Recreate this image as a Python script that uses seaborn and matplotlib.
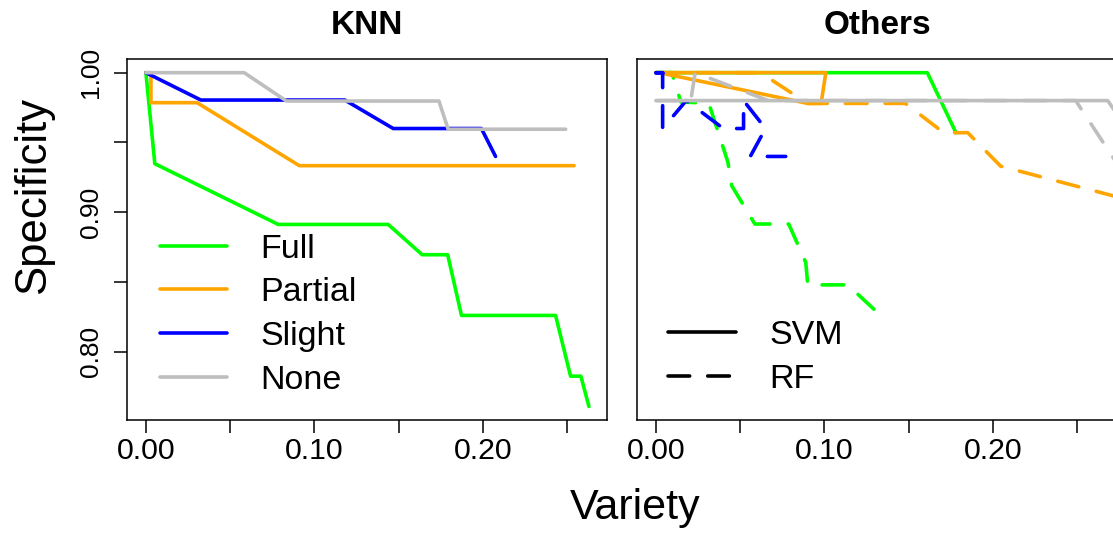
import numpy as np
import pandas as pd
import matplotlib
matplotlib.use("Agg")
import matplotlib.pyplot as plt
import seaborn as sns
from matplotlib.lines import Line2D

# ---------------- data ----------------
levels = ["Full", "Partial", "Slight", "None"]
models = ["SVM", "RF"]
level_colors = ["#00FF00", "#FFA500", "#0000FF", "#BEBEBE"]

# KNN panel
knn_full_x = [0, 0.0053, 0.0785, 0.1437, 0.1639, 0.179, 0.1872, 0.243, 0.2519, 0.258, 0.2628]
knn_full_y = [1.0, 0.9348, 0.8913, 0.8913, 0.8696, 0.8696, 0.8261, 0.8261, 0.7826, 0.7826, 0.7609]
knn_partial_x = [0, 0.003, 0.003, 0.0304, 0.091, 0.254]
knn_partial_y = [1.0, 1.0, 0.9785, 0.9785, 0.9334, 0.9334]
knn_slight_x = [0, 0.0326, 0.118, 0.1467, 0.199, 0.2074]
knn_slight_y = [1.0, 0.9804, 0.9804, 0.9600, 0.9600, 0.9400]
knn_none_x = [0, 0.0583, 0.0834, 0.1738, 0.1793, 0.249]
knn_none_y = [1.0, 1.0, 0.9797, 0.9797, 0.9595, 0.9595]

# Others panel: SVM (solid)
svm_full_x = [0, 0.161, 0.178]
svm_full_y = [1.0, 1.0, 0.957]
svm_partial_x = [0, 0.1008, 0.098, 0.09, 0.002]
svm_partial_y = [1.0, 1.0, 0.978, 0.978, 1.0]
svm_slight_x = [0, 0.004]
svm_slight_y = [1.0, 1.0]
svm_none_x = [0.001, 0.268, 0.285]
svm_none_y = [0.98, 0.98, 0.95]

# Others panel: RF (dashed)
rf_full_x = [0, 0.0095, 0.0148, 0.0249, 0.0314, 0.0427, 0.045, 0.0587, 0.0788, 0.0889, 0.0901, 0.1138, 0.1334]
rf_full_y = [1.0, 1.0, 0.979, 0.9785, 0.978, 0.936, 0.919, 0.8916, 0.8916, 0.864, 0.848, 0.848, 0.826]
rf_partial_x = [0, 0.062, 0.09, 0.148, 0.1707, 0.185, 0.2045, 0.28]
rf_partial_y = [1.0, 1.0, 0.978, 0.978, 0.957, 0.957, 0.933, 0.909]
rf_slight_x = [0, 0.004, 0.004, 0.018, 0.040, 0.052, 0.052, 0.065, 0.056, 0.077]
rf_slight_y = [1.0, 1.0, 0.96, 0.98, 0.96, 0.96, 0.98, 0.96, 0.94, 0.94]
rf_none_x = [0, 0.0207, 0.0233, 0.0667, 0.249, 0.28]
rf_none_y = [0.98, 0.98, 1.0, 0.98, 0.98, 0.923]

x_tick_values = [0.00, 0.05, 0.10, 0.15, 0.20, 0.25]
x_tick_labels = ["0.00", "", "0.10", "", "0.20", ""]
y_tick_values = [0.80, 0.85, 0.90, 0.95, 1.00]
y_tick_labels = ["0.80", "", "0.90", "", "1.00"]

# ---------------- tables ----------------
def frame(series, model):
    rows = []
    for lvl, (xs, ys) in zip(levels, series):
        for i, (xv, yv) in enumerate(zip(xs, ys)):
            rows.append({"level": lvl, "model": model, "i": i, "x": xv, "y": yv})
    return pd.DataFrame(rows)

knn_df = frame([(knn_full_x, knn_full_y), (knn_partial_x, knn_partial_y),
                (knn_slight_x, knn_slight_y), (knn_none_x, knn_none_y)], "KNN")
oth_df = pd.concat([
    frame([(svm_full_x, svm_full_y), (svm_partial_x, svm_partial_y),
           (svm_slight_x, svm_slight_y), (svm_none_x, svm_none_y)], "SVM"),
    frame([(rf_full_x, rf_full_y), (rf_partial_x, rf_partial_y),
           (rf_slight_x, rf_slight_y), (rf_none_x, rf_none_y)], "RF"),
], ignore_index=True)

# ---------------- style ----------------
sns.set_theme(style="white")
plt.rcParams["font.family"] = ["Liberation Sans", "DejaVu Sans"]
for key in ["text.color", "axes.labelcolor", "xtick.color", "ytick.color",
            "axes.edgecolor", "axes.titlecolor"]:
    plt.rcParams[key] = "black"
plt.rcParams["axes.linewidth"] = 1.1

palette = dict(zip(levels, level_colors))
dash_rf = (6.0, 5.0)
LW = 2.6

W, H = 1113, 533
fig = plt.figure(figsize=(W / 100, H / 100), dpi=100)
axL = fig.add_axes([127 / W, 113 / H, 480 / W, 361 / H])
axR = fig.add_axes([637 / W, 113 / H, 480 / W, 361 / H], sharey=axL)

sns.lineplot(data=knn_df, x="x", y="y", hue="level", hue_order=levels, palette=palette,
             sort=False, estimator=None, linewidth=LW, legend=False, ax=axL)
sns.lineplot(data=oth_df, x="x", y="y", hue="level", hue_order=levels, palette=palette,
             style="model", style_order=models, dashes={"SVM": "", "RF": dash_rf},
             sort=False, estimator=None, linewidth=LW, legend=False, ax=axR)

for ax in (axL, axR):
    for ln in ax.lines:
        ln.set_solid_capstyle("round")
        ln.set_dash_capstyle("round")
        ln.set_solid_joinstyle("round")
        ln.set_dash_joinstyle("round")
    ax.set_xlim(-0.0112, 0.2735)
    ax.set_ylim(0.7512, 1.0098)
    ax.set_xticks(x_tick_values)
    ax.set_xticklabels(x_tick_labels)
    ax.tick_params(axis="x", direction="out", length=9.4, width=1.1, color="black",
                   labelcolor="black", labelsize=21.8, pad=3, bottom=True)
    ax.set_xlabel("")
    ax.set_ylabel("")
    for s in ax.spines.values():
        s.set_visible(True)
        s.set_color("black")
        s.set_linewidth(1.1)

axL.set_yticks(y_tick_values)
axL.set_yticklabels(y_tick_labels, rotation=90, va="center")
axL.tick_params(axis="y", direction="out", length=9.4, width=1.1, color="black",
                labelcolor="black", labelsize=19, pad=8, left=True)
axR.tick_params(axis="y", left=False, labelleft=False)

axL.set_title("KNN", fontsize=24, fontweight="bold", pad=18, color="black")
axR.set_title("Others", fontsize=24, fontweight="bold", pad=18, color="black")

axL.set_ylabel("Specificity", fontsize=31.5, color="black")
axL.yaxis.set_label_coords(-0.195, 0.623)
axL.yaxis.label.set_va("center")
fig.text(635 / W, 1 - 508 / H, "Variety", fontsize=31, ha="center", va="center", color="black")

# legends
hL = [Line2D([], [], color=c, lw=LW, solid_capstyle="round") for c in level_colors]
legL = axL.legend(hL, levels, loc="upper left", bbox_to_anchor=(0.0688, 0.5165),
                  frameon=False, fontsize=24.5, handlelength=1.97, handletextpad=0.97,
                  labelspacing=0.374, borderaxespad=0, borderpad=0, labelcolor="black")
hR = [Line2D([], [], color="black", lw=LW, solid_capstyle="round"),
      Line2D([], [], color="black", lw=LW, dashes=dash_rf, dash_capstyle="round")]
legR = axR.legend(hR, models, loc="upper left", bbox_to_anchor=(0.0646, 0.2762),
                  frameon=False, fontsize=24.5, handlelength=2.0, handletextpad=0.97,
                  labelspacing=0.374, borderaxespad=0, borderpad=0, labelcolor="black")

fig.savefig("out.png", dpi=100, facecolor="white")
